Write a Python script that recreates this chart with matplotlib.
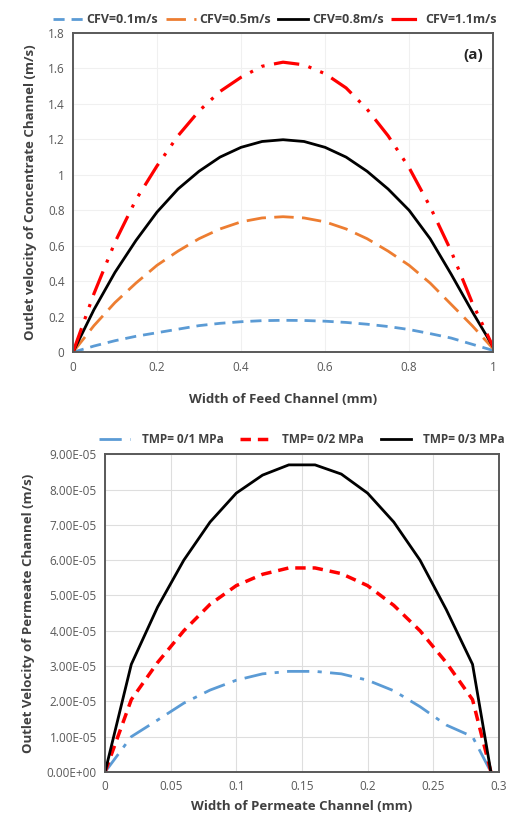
import matplotlib
matplotlib.use("Agg")
import matplotlib.pyplot as plt
from matplotlib.ticker import FuncFormatter

plt.rcParams["font.family"] = ["Open Sans", "DejaVu Sans"]

# panel (a): feed channel
feed_x = [0.0, 0.05, 0.1, 0.15, 0.2, 0.25, 0.3, 0.35, 0.4, 0.45, 0.5,
          0.55, 0.6, 0.65, 0.7, 0.75, 0.8, 0.85, 0.9, 0.95, 1.0]
cfv_01 = [0, 0.035, 0.065, 0.09, 0.11, 0.13, 0.15, 0.163, 0.172, 0.178, 0.18,
          0.179, 0.175, 0.168, 0.158, 0.145, 0.128, 0.105, 0.08, 0.045, 0.01]
cfv_05 = [0, 0.15, 0.28, 0.39, 0.49, 0.57, 0.64, 0.695, 0.735, 0.757, 0.764,
          0.757, 0.735, 0.695, 0.64, 0.57, 0.49, 0.39, 0.27, 0.15, 0.02]
cfv_08 = [0, 0.24, 0.45, 0.63, 0.79, 0.92, 1.02, 1.10, 1.155, 1.188, 1.198,
          1.188, 1.155, 1.10, 1.02, 0.92, 0.80, 0.64, 0.44, 0.23, 0.03]
cfv_11 = [0, 0.33, 0.62, 0.86, 1.05, 1.22, 1.36, 1.47, 1.55, 1.612, 1.635,
          1.62, 1.57, 1.49, 1.37, 1.22, 1.04, 0.82, 0.57, 0.28, 0.03]
cfv_labels = ["CFV=0.1m/s", "CFV=0.5m/s", "CFV=0.8m/s", "CFV=1.1m/s"]

# panel (b): permeate channel
perm_x = [0.0, 0.02, 0.04, 0.06, 0.08, 0.1, 0.12, 0.14, 0.16, 0.18,
          0.2, 0.22, 0.24, 0.26, 0.28, 0.294]
tmp_1 = [0, 1.0e-5, 1.47e-5, 1.95e-5, 2.32e-5, 2.6e-5, 2.78e-5, 2.85e-5,
         2.85e-5, 2.78e-5, 2.6e-5, 2.3e-5, 1.85e-5, 1.33e-5, 1.0e-5, 0]
tmp_2 = [0, 2.05e-5, 3.1e-5, 4.0e-5, 4.75e-5, 5.28e-5, 5.6e-5, 5.78e-5,
         5.78e-5, 5.62e-5, 5.28e-5, 4.72e-5, 4.0e-5, 3.1e-5, 2.05e-5, 0]
tmp_3 = [0, 3.05e-5, 4.67e-5, 6.0e-5, 7.08e-5, 7.9e-5, 8.41e-5, 8.7e-5,
         8.7e-5, 8.44e-5, 7.9e-5, 7.08e-5, 6.0e-5, 4.6e-5, 3.05e-5, 0]
tmp_labels = ["TMP= 0/1 MPa", "TMP= 0/2 MPa", "TMP= 0/3 MPa"]

BLUE = "#5b9bd5"
ORANGE = "#ed7d31"
RED = "#ff0000"
TICK_COLOR = "#595959"
LABEL_COLOR = "#404040"

fig = plt.figure(figsize=(5.1, 8.23), dpi=100)


def style_axes(ax):
	for spine in ax.spines.values():
		spine.set_color("#595959")
		spine.set_linewidth(1.4)
	ax.tick_params(length=0, labelsize=8.5, colors=TICK_COLOR, pad=6)
	ax.set_axisbelow(True)


# ---- top panel
ax1 = fig.add_axes([0.143, 0.572, 0.824, 0.388])
ax1.plot(feed_x, cfv_01, color=BLUE, lw=2.0, dashes=(4, 2.5), label=cfv_labels[0])
ax1.plot(feed_x, cfv_05, color=ORANGE, lw=2.0, dashes=(7, 3), label=cfv_labels[1])
ax1.plot(feed_x, cfv_08, color="black", lw=2.0, label=cfv_labels[2])
ax1.plot(feed_x, cfv_11, color=RED, lw=2.3, dashes=(8, 3, 1, 3, 1, 3), label=cfv_labels[3])
ax1.set_xlim(0, 1)
ax1.set_ylim(0, 1.8)
ax1.set_xticks([0, 0.2, 0.4, 0.6, 0.8, 1.0])
ax1.set_yticks([0, 0.2, 0.4, 0.6, 0.8, 1.0, 1.2, 1.4, 1.6, 1.8])
ax1.xaxis.set_major_formatter(FuncFormatter(lambda v, p: f"{v:g}"))
ax1.yaxis.set_major_formatter(FuncFormatter(lambda v, p: f"{v:g}"))
ax1.grid(True, color="#f0f0f0", lw=0.8)
style_axes(ax1)
ax1.set_xlabel("Width of Feed Channel (mm)", fontsize=9.5, fontweight="bold",
	color=LABEL_COLOR, labelpad=14)
ax1.set_ylabel("Outlet velocity of Concentrate Channel (m/s)", fontsize=9.5,
	fontweight="bold", color=LABEL_COLOR, labelpad=8)
ax1.text(0.975, 0.93, "(a)", transform=ax1.transAxes, ha="right", va="center",
	fontsize=11, fontweight="bold", color="#262626")
leg1 = ax1.legend(loc="lower center", bbox_to_anchor=(0.48, 1.0), ncol=4, frameon=False,
	fontsize=9, handlelength=2.4, handletextpad=0.3, columnspacing=0.6,
	borderaxespad=0.15)
for t in leg1.get_texts():
	t.set_fontweight("bold")
	t.set_color(LABEL_COLOR)

# ---- bottom panel
ax2 = fig.add_axes([0.206, 0.062, 0.772, 0.386])
ax2.plot(perm_x, tmp_1, color=BLUE, lw=2.0, dashes=(8, 3, 1.5, 3), label=tmp_labels[0])
ax2.plot(perm_x, tmp_2, color=RED, lw=2.5, dashes=(3, 2), label=tmp_labels[1])
ax2.plot(perm_x, tmp_3, color="black", lw=2.0, label=tmp_labels[2])
ax2.set_xlim(0, 0.3)
ax2.set_ylim(0, 9e-5)
ax2.set_xticks([0, 0.05, 0.1, 0.15, 0.2, 0.25, 0.3])
ax2.set_yticks([i * 1e-5 for i in range(10)])
ax2.xaxis.set_major_formatter(FuncFormatter(lambda v, p: f"{v:g}"))
ax2.yaxis.set_major_formatter(FuncFormatter(lambda v, p: f"{v:.2E}"))
ax2.grid(True, color="#dedede", lw=0.8)
style_axes(ax2)
ax2.set_xlabel("Width of Permeate Channel (mm)", fontsize=9.5, fontweight="bold",
	color=LABEL_COLOR, labelpad=5)
ax2.set_ylabel("Outlet Velocity of Permeate Channel (m/s)", fontsize=9.5,
	fontweight="bold", color=LABEL_COLOR, labelpad=8)
leg2 = ax2.legend(loc="lower center", bbox_to_anchor=(0.5, 1.0), ncol=3, frameon=False,
	fontsize=8.5, handlelength=2.6, handletextpad=1.0, columnspacing=1.4,
	borderaxespad=0.3)
for t in leg2.get_texts():
	t.set_fontweight("bold")
	t.set_color(LABEL_COLOR)

fig.savefig("out.png", dpi=100)
